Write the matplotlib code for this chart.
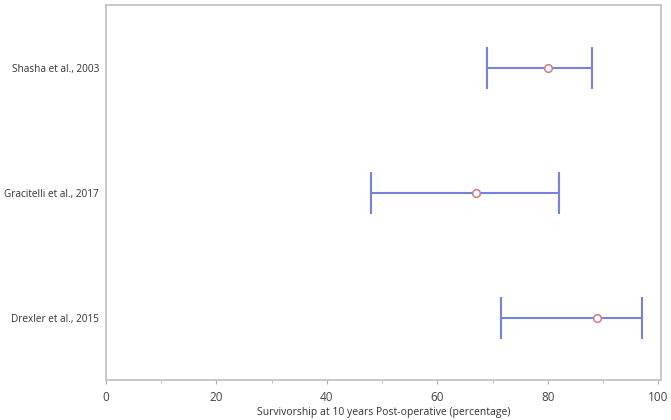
import matplotlib
matplotlib.use('Agg')
import matplotlib.pyplot as plt
from matplotlib.ticker import MultipleLocator

# Study estimates (survivorship %, with CI bounds)
studies = ['Shasha et al., 2003', 'Gracitelli et al., 2017', 'Drexler et al., 2015']
means = [80, 67, 89]
lower = [69, 48, 71.5]
upper = [88, 82, 97]

plt.rcParams['font.family'] = ['Open Sans', 'DejaVu Sans']

fig = plt.figure(figsize=(6.71, 4.2), dpi=100)
ax = fig.add_axes([0.158, 0.095, 0.827, 0.893])

ypos = list(range(len(studies)))
err_lo = [m - l for m, l in zip(means, lower)]
err_hi = [u - m for m, u in zip(means, upper)]
ax.errorbar(means, ypos, xerr=[err_lo, err_hi], fmt='none',
            ecolor='#7484d8', elinewidth=1.5, capsize=15, capthick=1.5, zorder=2)
ax.plot(means, ypos, 'o', markersize=5.5, markerfacecolor='white',
        markeredgecolor='#d07a80', markeredgewidth=1.1, zorder=3)

ax.set_xlim(0, 100.5)
ax.set_ylim(2.5, -0.5)
ax.set_yticks(ypos)
ax.set_yticklabels(studies)
ax.xaxis.set_major_locator(MultipleLocator(20))
ax.xaxis.set_minor_locator(MultipleLocator(10))

for s in ax.spines.values():
    s.set_color('#c4c4c4')
    s.set_linewidth(1.3)

ax.tick_params(axis='y', length=0, pad=5, labelsize=7.2, labelcolor='#333333')
ax.tick_params(axis='x', which='major', length=3, color='#b0b0b0', pad=5,
               labelsize=8.5, labelcolor='#444444')
ax.tick_params(axis='x', which='minor', length=2, color='#b0b0b0')

ax.set_xlabel('Survivorship at 10 years Post-operative (percentage)',
              fontsize=7.5, color='#333333', labelpad=2)

plt.savefig('out.png', dpi=100)
